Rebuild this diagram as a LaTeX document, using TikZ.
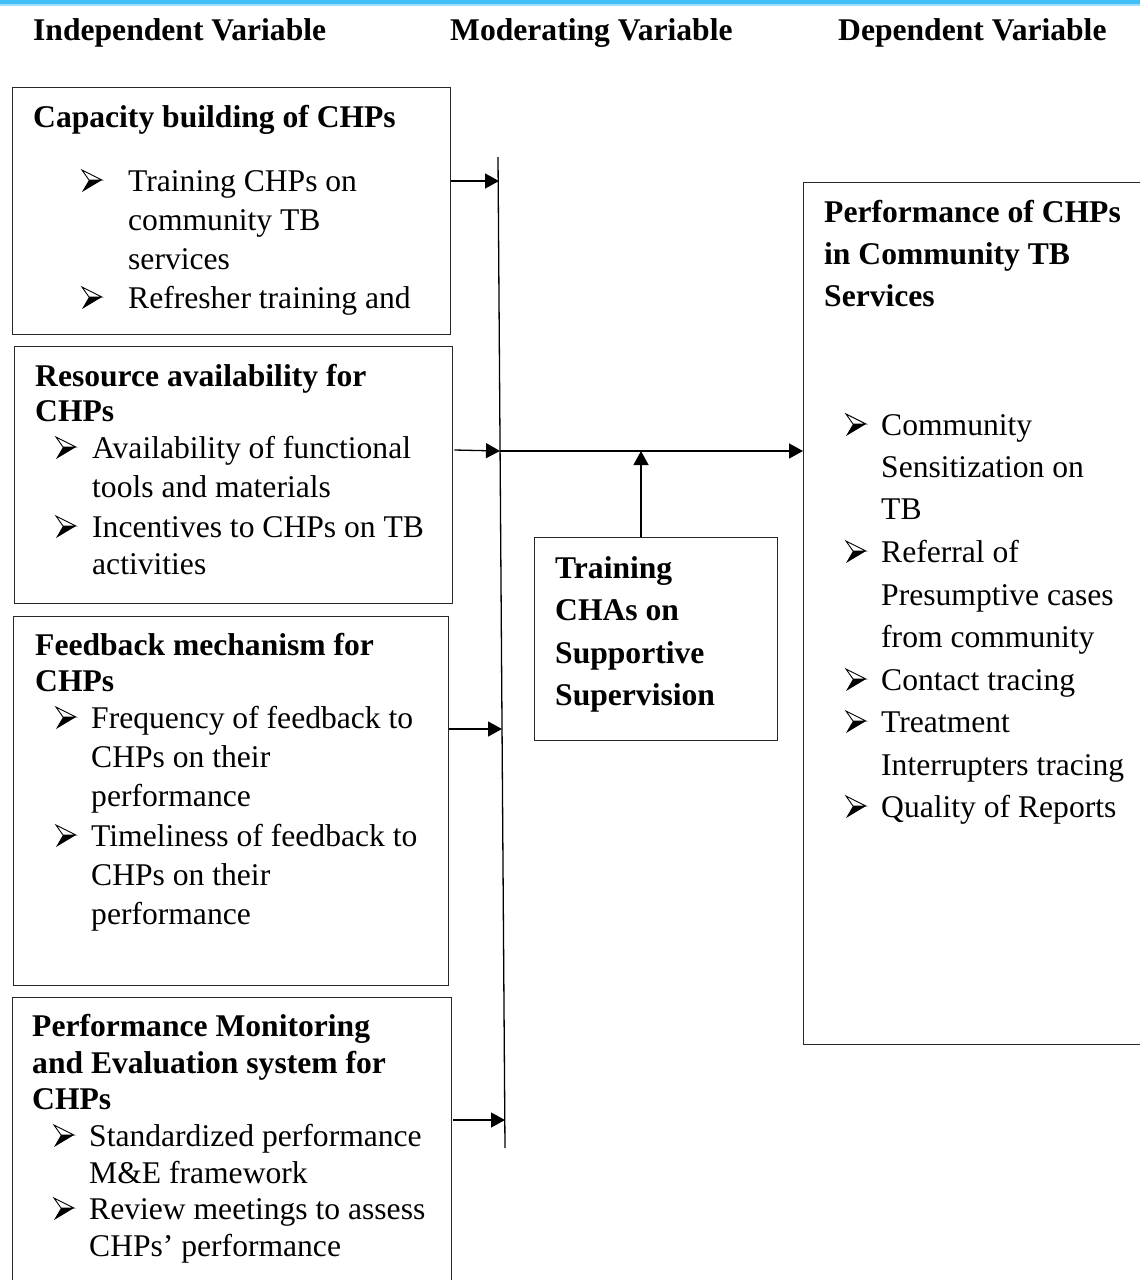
\documentclass[tikz,border=0pt]{standalone}
\usepackage{fontspec}
\setmainfont{Liberation Serif}
\usetikzlibrary{arrows.meta}
\definecolor{topblue}{RGB}{66,190,250}
\definecolor{lineclr}{RGB}{40,40,40}
\tikzset{
  txt/.style={anchor=base west, inner sep=0pt, font=\fontsize{31.6}{38}\selectfont},
  hdr/.style={anchor=base west, inner sep=0pt, font=\bfseries\fontsize{31.6}{38}\selectfont},
  box/.style={draw=lineclr, line width=1.3pt, rectangle, anchor=north west, inner sep=0pt},
  conn/.style={draw=black, line width=1.3pt},
  arr/.style={conn, -{Triangle[length=14pt,width=15pt]}},
  arrbul/.pic={
    \draw[line width=0.9pt, line join=miter] (0,-21) -- (20,-11) -- (7,-11) -- cycle;
    \fill[black] (7,-11) -- (20,-11) -- (0,1) -- cycle;
  },
}
\begin{document}
\begin{tikzpicture}[x=1pt,y=-1pt]
\useasboundingbox (0,0) rectangle (1140,1280);
\clip (0,0) rectangle (1140,1280);
\fill[topblue] (0,0) rectangle (1140,4);
\fill[topblue!50] (0,4) rectangle (1140,5.5);

% column headers
\node[hdr] (hInd) at (33,40) {Independent Variable};
\node[hdr] (hMod) at (450,40) {Moderating Variable};
\node[hdr] (hDep) at (838,40) {Dependent Variable};

% boxes
\node[box, minimum width=438pt, minimum height=247pt] (box1) at (12,87) {};
\node[box, minimum width=438pt, minimum height=257pt] (box2) at (14,346) {};
\node[box, minimum width=435pt, minimum height=369pt] (box3) at (13,616) {};
\node[box, minimum width=439pt, minimum height=303pt] (box4) at (12,997) {};
\node[box, minimum width=243pt, minimum height=203pt] (mod) at (534,537) {};
\node[box, minimum width=357pt, minimum height=862pt] (dep) at (803,182) {};

% box 1
\node[hdr] (b1h) at (33,127) {Capacity building of CHPs};
\pic (b1b1) at (82,191) {arrbul};
\node[txt] (b1l1) at (128,191) {Training CHPs on};
\node[txt] (b1l2) at (128,230) {community TB};
\node[txt] (b1l3) at (128,269) {services};
\pic (b1b2) at (82,308) {arrbul};
\node[txt] (b1l4) at (128,308) {Refresher training and};

% box 2
\node[hdr] (b2h1) at (35,386) {Resource availability for};
\node[hdr] (b2h2) at (35,421) {CHPs};
\pic (b2b1) at (56,458) {arrbul};
\node[txt] (b2l1) at (92,458) {Availability of functional};
\node[txt] (b2l2) at (92,497) {tools and materials};
\pic (b2b2) at (56,537) {arrbul};
\node[txt] (b2l3) at (92,537) {Incentives to CHPs on TB};
\node[txt] (b2l4) at (92,574) {activities};

% box 3
\node[hdr] (b3h1) at (35,655) {Feedback mechanism for};
\node[hdr] (b3h2) at (35,691) {CHPs};
\pic (b3b1) at (56,728) {arrbul};
\node[txt] (b3l1) at (91,728) {Frequency of feedback to};
\node[txt] (b3l2) at (91,767) {CHPs on their};
\node[txt] (b3l3) at (91,806) {performance};
\pic (b3b2) at (56,846) {arrbul};
\node[txt] (b3l4) at (91,846) {Timeliness of feedback to};
\node[txt] (b3l5) at (91,885) {CHPs on their};
\node[txt] (b3l6) at (91,924) {performance};

% box 4
\node[hdr] (b4h1) at (32,1036) {Performance Monitoring};
\node[hdr] (b4h2) at (32,1073) {and Evaluation system for};
\node[hdr] (b4h3) at (32,1109) {CHPs};
\pic (b4b1) at (54,1146) {arrbul};
\node[txt] (b4l1) at (89,1146) {Standardized performance};
\node[txt] (b4l2) at (89,1183) {M\&E framework};
\pic (b4b2) at (54,1219) {arrbul};
\node[txt] (b4l3) at (89,1219) {Review meetings to assess};
\node[txt] (b4l4) at (89,1256) {CHPs’ performance};

% moderating box
\node[hdr] (m1) at (555,578) {Training};
\node[hdr] (m2) at (555,620.5) {CHAs on};
\node[hdr] (m3) at (555,663) {Supportive};
\node[hdr] (m4) at (555,705.5) {Supervision};

% dependent box
\node[hdr] (d1) at (824,222.5) {Performance of CHPs};
\node[hdr] (d2) at (824,264.5) {in Community TB};
\node[hdr] (d3) at (824,306.5) {Services};
\pic (db1) at (846,435) {arrbul};
\node[txt] (dl1) at (881,435) {Community};
\node[txt] (dl2) at (881,477) {Sensitization on};
\node[txt] (dl3) at (881,519) {TB};
\pic (db2) at (846,562) {arrbul};
\node[txt] (dl4) at (881,562) {Referral of};
\node[txt] (dl5) at (881,605) {Presumptive cases};
\node[txt] (dl6) at (881,647) {from community};
\pic (db3) at (846,690) {arrbul};
\node[txt] (dl7) at (881,690) {Contact tracing};
\pic (db4) at (846,732) {arrbul};
\node[txt] (dl8) at (881,732) {Treatment};
\node[txt] (dl9) at (881,775) {Interrupters tracing};
\pic (db5) at (846,817) {arrbul};
\node[txt] (dl10) at (881,817) {Quality of Reports};

% vertical collector line
\coordinate (vtop) at (498,157);
\coordinate (vbot) at (505,1148);
\draw[conn] (vtop) -- (vbot);
\coordinate (e1) at (499,181);
\coordinate (e2) at (500,451);
\coordinate (e3) at (502,729);
\coordinate (e4) at (505,1120);
\coordinate (upx) at (641,451);

\draw[arr] (box1.east |- e1) -- (e1);
\draw[arr] ([xshift=1pt]box2.east |- 0,450) -- (e2);
\draw[arr] (box3.east |- e3) -- (e3);
\draw[arr] ([xshift=1pt]box4.east |- e4) -- (e4);
\draw[arr] (e2) -- (dep.west |- e2);
\draw[arr] (upx |- mod.north) -- (upx);
\end{tikzpicture}
\end{document}
